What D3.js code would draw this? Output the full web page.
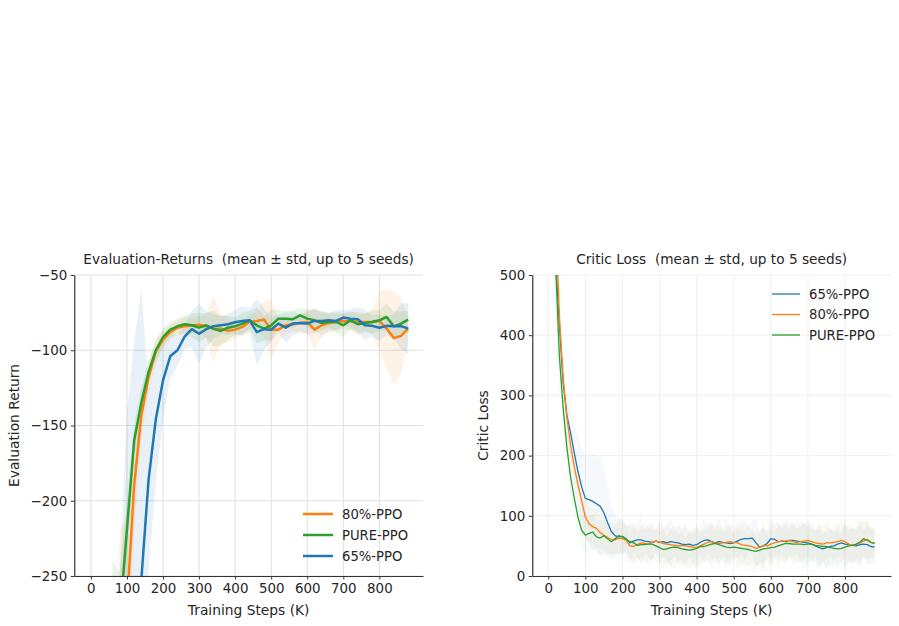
<!DOCTYPE html>
<html>
<head>
<meta charset="utf-8">
<script src="https://cdn.jsdelivr.net/npm/d3@7"></script>
<style>
  body { margin: 0; background: #fff; }
  svg text { font-family: "DejaVu Sans", sans-serif; fill: #262626; white-space: pre; }
</style>
</head>
<body>
<div id="chart"></div>
<script>
// ---------- datos: evaluation returns (cada 20K pasos) ----------
const pasosEval = [0, 20, 40, 60, 80, 100, 120, 140, 160, 180,
  200, 220, 240, 260, 280, 300, 320, 340, 360, 380,
  400, 420, 440, 460, 480, 500, 520, 540, 560, 580,
  600, 620, 640, 660, 680, 700, 720, 740, 760, 780,
  800, 820, 840, 860, 880]

const eval80 = [-1000, -950, -850, -600, -350, -270, -190, -143, -118, -101,
  -93, -88, -85, -84, -83.5, -83, -84, -86, -85.6, -87,
  -86.3, -84.5, -81, -80.5, -79.6, -86.3, -86.3, -83.4, -82.7, -81.9,
  -81.2, -86.3, -83.4, -81.9, -81.2, -80.5, -80.8, -81.2, -81.2, -81.2,
  -80.5, -85.6, -91.8, -90.5, -85.6]
const std80 = [60, 80, 120, 200, 130, 60, 30, 15, 10, 8,
  6, 5, 5, 6, 5, 6, 8, 22, 10, 8,
  6, 5, 5, 6, 12, 20, 8, 6, 5, 6,
  8, 14, 8, 6, 5, 5, 6, 7, 6, 8,
  20, 26, 31, 25, 8]

const evalPure = [-1100, -1000, -800, -400, -278, -219, -160, -134.7, -114.4, -100,
  -91.2, -86.3, -84.1, -82.7, -83.4, -85, -83.4, -85.6, -87.2, -85,
  -84.1, -82.3, -80.1, -83.4, -85.6, -83.4, -79, -79, -79.4, -76.8,
  -79, -80.1, -81.9, -81, -81.2, -83.4, -80.1, -82.7, -81.9, -81.2,
  -80.1, -77.9, -84.1, -82.3, -79.6]
const stdPure = [80, 100, 150, 160, 30, 20, 12, 10, 8, 7,
  6, 5, 5, 6, 8, 10, 8, 12, 10, 8,
  6, 7, 6, 12, 8, 10, 6, 5, 6, 5,
  6, 7, 8, 6, 7, 8, 6, 7, 6, 8,
  7, 9, 10, 8, 6]

const eval65 = [-900, -850, -800, -700, -550, -420, -320, -252, -186, -146,
  -120, -104, -100, -91, -86, -89, -86, -84, -83.4, -82.7,
  -81.4, -80.5, -80, -88, -86, -86.3, -82.3, -85, -82.3, -81.9,
  -82.3, -80.5, -80.5, -80, -80.5, -78.3, -79, -79.4, -83.4, -83.8,
  -85, -83.8, -84, -84, -85.6]
const std65 = [50, 60, 80, 150, 300, 280, 225, 193, 60, 42,
  26, 15, 10, 8, 12, 20, 12, 8, 6, 7,
  8, 10, 8, 22, 14, 8, 6, 10, 8, 6,
  7, 8, 6, 5, 7, 5, 6, 8, 10, 7,
  9, 6, 8, 15, 17]

// ---------- datos: critic loss (cada 10K pasos) ----------
const pasosCritic = [0, 10, 20, 30, 40, 50, 60, 70, 80, 90,
  100, 110, 120, 130, 140, 150, 160, 170, 180, 190,
  200, 210, 220, 230, 240, 250, 260, 270, 280, 290,
  300, 310, 320, 330, 340, 350, 360, 370, 380, 390,
  400, 410, 420, 430, 440, 450, 460, 470, 480, 490,
  500, 510, 520, 530, 540, 550, 560, 570, 580, 590,
  600, 610, 620, 630, 640, 650, 660, 670, 680, 690,
  700, 710, 720, 730, 740, 750, 760, 770, 780, 790,
  800, 810, 820, 830, 840, 850, 860, 870, 880]

const critic65 = [1400, 900, 520, 420, 322, 268, 238, 205, 174, 148,
  129, 127, 124, 120, 116, 105, 89, 74, 67, 65,
  66, 62, 55, 58, 60, 60, 58, 57, 56, 58,
  56, 57, 55, 57, 56, 55, 53, 52, 53, 51,
  52, 56, 59, 60, 57, 55, 57, 56, 55, 54,
  55, 58, 61, 62, 62, 63, 55, 48, 50, 54,
  62, 61, 57, 58, 57, 59, 59, 58, 57, 56,
  55, 53, 50, 47, 45, 47, 49, 50, 53, 55,
  53, 52, 51, 50, 52, 53, 52, 49, 48]
const criticStd65 = [150, 120, 90, 60, 50, 40, 45, 55, 60, 65,
  70, 72, 80, 75, 85, 70, 58, 45, 35, 30,
  28, 22, 35, 18, 30, 40, 20, 26, 33, 19,
  38, 24, 29, 42, 21, 31, 25, 36, 20, 27,
  34, 18, 39, 23, 30, 26, 41, 22, 28, 35,
  19, 32, 24, 37, 21, 29, 43, 25, 30, 20,
  36, 27, 33, 22, 38, 24, 31, 19, 35, 28,
  40, 23, 26, 34, 21, 37, 29, 24, 32, 20,
  39, 25, 30, 27, 35, 22, 33, 28, 30]

const critic80 = [1500, 1000, 600, 430, 330, 265, 218, 182, 152, 125,
  98, 87, 82, 79, 72, 68, 64, 61, 60, 63,
  62, 59, 50, 49, 52, 55, 54, 53, 56, 58,
  56, 54, 53, 52, 51, 50, 51, 50, 49, 48,
  47, 50, 53, 56, 57, 55, 54, 55, 56, 57,
  56, 55, 52, 51, 50, 49, 46, 48, 51, 50,
  53, 55, 57, 58, 58, 59, 57, 56, 57, 58,
  59, 57, 55, 54, 53, 55, 55, 56, 57, 59,
  57, 53, 51, 52, 55, 58, 61, 56, 54]
const criticStd80 = [150, 120, 80, 50, 35, 30, 28, 26, 30, 32,
  35, 30, 28, 32, 26, 30, 24, 28, 22, 26,
  24, 33, 20, 38, 27, 22, 36, 25, 31, 18,
  35, 23, 40, 26, 21, 34, 28, 37, 22, 30,
  25, 39, 20, 33, 27, 36, 23, 29, 41, 24,
  31, 22, 35, 27, 38, 21, 30, 26, 42, 23,
  34, 28, 20, 37, 25, 32, 22, 39, 27, 30,
  24, 36, 21, 33, 29, 40, 23, 31, 26, 38,
  22, 35, 28, 30, 41, 24, 33, 27, 25]

const criticPure = [1300, 800, 515, 365, 280, 215, 165, 130, 98, 76,
  68, 71, 73, 65, 63, 67, 62, 57, 62, 67,
  65, 61, 57, 55, 51, 52, 52, 53, 53, 50,
  47, 44, 45, 47, 48, 47, 45, 44, 43, 44,
  46, 49, 49, 51, 53, 54, 52, 50, 48, 47,
  48, 47, 46, 45, 44, 42, 41, 43, 45, 46,
  47, 48, 50, 52, 54, 54, 53, 53, 53, 52,
  53, 53, 51, 50, 49, 49, 47, 46, 45, 46,
  48, 50, 51, 53, 56, 62, 59, 56, 54]
const criticStdPure = [150, 110, 70, 45, 35, 30, 32, 30, 28, 30,
  32, 28, 30, 26, 29, 24, 27, 22, 25, 28,
  30, 21, 27, 34, 19, 32, 24, 37, 22, 29,
  26, 35, 20, 31, 38, 23, 28, 19, 33, 25,
  36, 22, 30, 27, 40, 21, 32, 24, 29, 34,
  20, 37, 26, 31, 23, 39, 25, 28, 35, 22,
  30, 24, 38, 27, 33, 21, 36, 26, 29, 41,
  23, 32, 25, 37, 28, 20, 34, 27, 31, 24,
  39, 26, 30, 22, 35, 29, 33, 25, 28]

const ticksX = [0, 100, 200, 300, 400, 500, 600, 700, 800]
const ticksEval = [-250, -200, -150, -100, -50]
const ticksCritic = [0, 100, 200, 300, 400, 500]

const azul = "#1f77b4", naranja = "#ff7f0e", verde = "#2ca02c"

const ancho = 899
const alto = 626

const svg = d3.select("#chart").append("svg").attr("width", ancho).attr("height", alto)

const fmt = d => d < 0 ? "\u2212" + Math.abs(d) : "" + d

function panel(cfg) {
  const x = d3.scaleLinear().domain(cfg.xDom).range([cfg.izq, cfg.der])
  const y = d3.scaleLinear().domain(cfg.yDom).range([cfg.abajo, cfg.arriba])
  const g = svg.append("g").attr("id", cfg.id)

  // grid
  const grid = g.append("g").attr("stroke", cfg.gridColor).attr("stroke-width", 0.9)
  grid.selectAll(".gx").data(ticksX).enter().append("line")
    .attr("x1", d => x(d)).attr("x2", d => x(d))
    .attr("y1", cfg.arriba).attr("y2", cfg.abajo)
  grid.selectAll(".gy").data(cfg.yTicks).enter().append("line")
    .attr("x1", cfg.izq).attr("x2", cfg.der)
    .attr("y1", d => y(d)).attr("y2", d => y(d))

  const clipId = "clip-" + cfg.id
  g.append("clipPath").attr("id", clipId).append("rect")
    .attr("x", cfg.izq).attr("y", cfg.arriba)
    .attr("width", cfg.der - cfg.izq).attr("height", cfg.abajo - cfg.arriba)
  const datos = g.append("g").attr("clip-path", `url(#${clipId})`)

  const area = d3.area()
    .x((d, i) => x(cfg.pasos[i]))
    .y0(d => y(d.m - d.s)).y1(d => y(d.m + d.s))
  const linea = d3.line()
    .x((d, i) => x(cfg.pasos[i]))
    .y(d => y(d.m))

  cfg.series.forEach(s => {
    const pts = s.media.map((m, i) => ({ m: m, s: s.std[i] }))
    datos.append("path").datum(pts).attr("d", area)
      .attr("fill", s.color).attr("fill-opacity", cfg.bandaAlpha).attr("stroke", "none")
  })
  cfg.series.forEach(s => {
    const pts = s.media.map((m, i) => ({ m: m, s: s.std[i] }))
    datos.append("path").datum(pts).attr("d", linea)
      .attr("fill", "none").attr("stroke", s.color)
      .attr("stroke-width", cfg.grosor).attr("stroke-linejoin", "round")
  })

  // ejes
  const ejeX = g.append("g").attr("transform", `translate(0, ${cfg.abajo})`)
    .call(d3.axisBottom(x).tickValues(ticksX).tickSize(3.5).tickSizeOuter(0).tickPadding(3.5))
  ejeX.select(".domain").attr("stroke", "#333").attr("stroke-width", 1.1)
  ejeX.selectAll(".tick line").attr("stroke", "#333")
  ejeX.selectAll("text").attr("font-size", 13.4).attr("font-family", "DejaVu Sans").attr("fill", "#262626")

  const ejeY = g.append("g").attr("transform", `translate(${cfg.izq}, 0)`)
    .call(d3.axisLeft(y).tickValues(cfg.yTicks).tickFormat(fmt).tickSize(3.5).tickSizeOuter(0).tickPadding(3.5))
  ejeY.select(".domain").attr("stroke", "#222").attr("stroke-width", 1.1)
  ejeY.selectAll(".tick line").attr("stroke", "#333")
  ejeY.selectAll("text").attr("font-size", 13.4).attr("font-family", "DejaVu Sans").attr("fill", "#262626")

  // textos
  g.append("text").attr("x", (cfg.izq + cfg.der) / 2).attr("y", 264)
    .attr("text-anchor", "middle").attr("font-size", 13.7).text(cfg.titulo)
  g.append("text").attr("x", (cfg.izq + cfg.der) / 2).attr("y", 615)
    .attr("text-anchor", "middle").attr("font-size", 13.8).text("Training Steps (K)")
  g.append("text").attr("transform", `translate(${cfg.yLabelX}, ${(cfg.arriba + cfg.abajo) / 2}) rotate(-90)`)
    .attr("text-anchor", "middle").attr("font-size", 13.8).text(cfg.yLabel)

  // leyenda
  const ley = g.append("g")
  cfg.leyenda.items.forEach((it, i) => {
    const yy = cfg.leyenda.y + i * cfg.leyenda.paso
    ley.append("line").attr("x1", cfg.leyenda.x).attr("x2", cfg.leyenda.x + cfg.leyenda.largo)
      .attr("y1", yy).attr("y2", yy).attr("stroke", it.color).attr("stroke-width", cfg.grosor)
    ley.append("text").attr("x", cfg.leyenda.x + cfg.leyenda.largo + 9).attr("y", yy)
      .attr("dy", "0.35em").attr("font-size", 13.2).text(it.nombre)
  })
}

panel({
  id: "evalPanel",
  xDom: [-46, 921], yDom: [-250, -50],
  izq: 74.3, der: 423, arriba: 275, abajo: 576,
  yTicks: ticksEval, gridColor: "#dcdcdc",
  pasos: pasosEval, bandaAlpha: 0.1, grosor: 2.5,
  series: [
    { color: naranja, media: eval80, std: std80 },
    { color: verde, media: evalPure, std: stdPure },
    { color: azul, media: eval65, std: std65 }
  ],
  titulo: "Evaluation-Returns  (mean \u00b1 std, up to 5 seeds)",
  yLabel: "Evaluation Return", yLabelX: 19,
  leyenda: { x: 303, y: 514, paso: 21, largo: 30, items: [
    { color: naranja, nombre: "80%-PPO" },
    { color: verde, nombre: "PURE-PPO" },
    { color: azul, nombre: "65%-PPO" }
  ] }
})

panel({
  id: "criticPanel",
  xDom: [-43, 924], yDom: [0, 500],
  izq: 532.3, der: 891, arriba: 275, abajo: 576,
  yTicks: ticksCritic, gridColor: "#ededed",
  pasos: pasosCritic, bandaAlpha: 0.045, grosor: 1.3,
  series: [
    { color: azul, media: critic65, std: criticStd65 },
    { color: naranja, media: critic80, std: criticStd80 },
    { color: verde, media: criticPure, std: criticStdPure }
  ],
  titulo: "Critic Loss  (mean \u00b1 std, up to 5 seeds)",
  yLabel: "Critic Loss", yLabelX: 488,
  leyenda: { x: 772, y: 294, paso: 20.5, largo: 28, items: [
    { color: azul, nombre: "65%-PPO" },
    { color: naranja, nombre: "80%-PPO" },
    { color: verde, nombre: "PURE-PPO" }
  ] }
})
</script>
</body>
</html>
